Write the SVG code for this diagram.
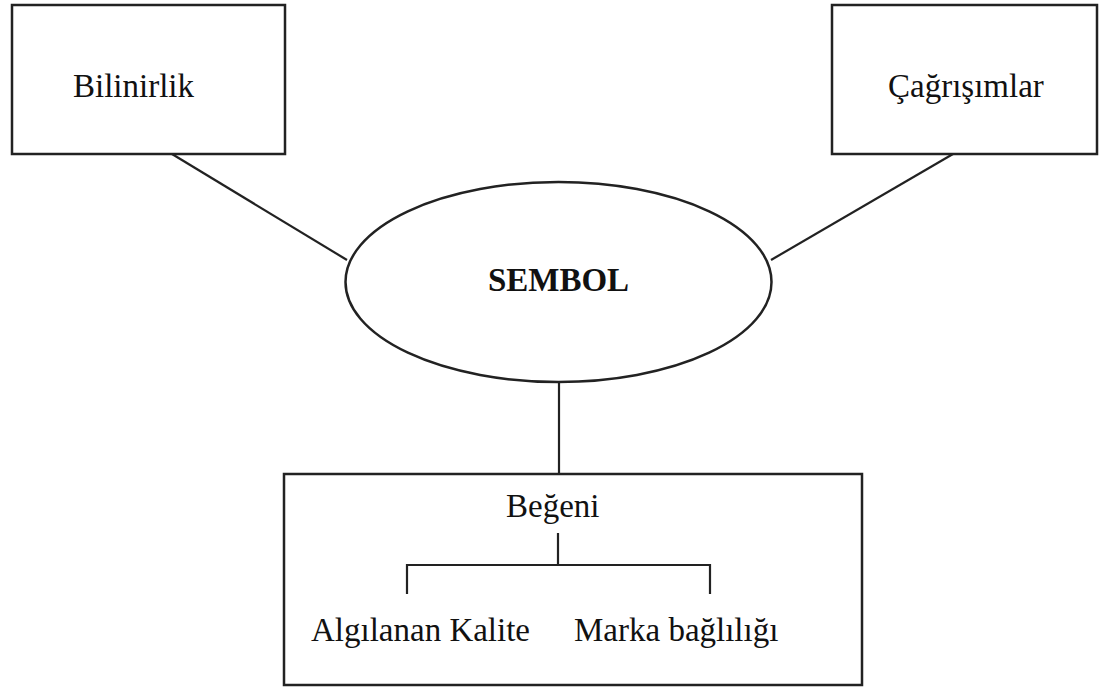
<svg xmlns="http://www.w3.org/2000/svg" width="1099" height="687" viewBox="0 0 1099 687">
<style>
.box{fill:#fff;stroke:#222;stroke-width:2.5}
.ln{stroke:#222;stroke-width:2.2;fill:none}
text{font-family:"Liberation Serif","Times New Roman",serif;font-size:33px;fill:#111}
.b{font-weight:bold;text-anchor:middle}
</style>
<rect width="1099" height="687" fill="#fff"/>
<g id="connectors">
<line class="ln" x1="172" y1="154" x2="347" y2="260"/>
<line class="ln" x1="953" y1="154" x2="771" y2="260"/>
<line class="ln" x1="559" y1="382" x2="559" y2="474"/>
</g>
<g id="bilinirlik">
<rect class="box" x="12" y="5" width="273" height="149"/>
<text x="73" y="97">Bilinirlik</text>
</g>
<g id="cagrisimlar">
<rect class="box" x="832" y="5" width="265" height="149"/>
<text x="888" y="97">Çağrışımlar</text>
</g>
<g id="sembol">
<ellipse class="box" cx="558.5" cy="282" rx="213" ry="100" stroke-width="2.2"/>
<text class="b" x="558.5" y="291">SEMBOL</text>
</g>
<g id="begeni">
<rect class="box" x="284" y="474" width="578" height="211"/>
<text x="506" y="517">Beğeni</text>
<path class="ln" d="M558 533V565M407 594V565H710V594"/>
<text x="311" y="641">Algılanan Kalite</text>
<text x="574" y="641">Marka bağlılığı</text>
</g>
</svg>
